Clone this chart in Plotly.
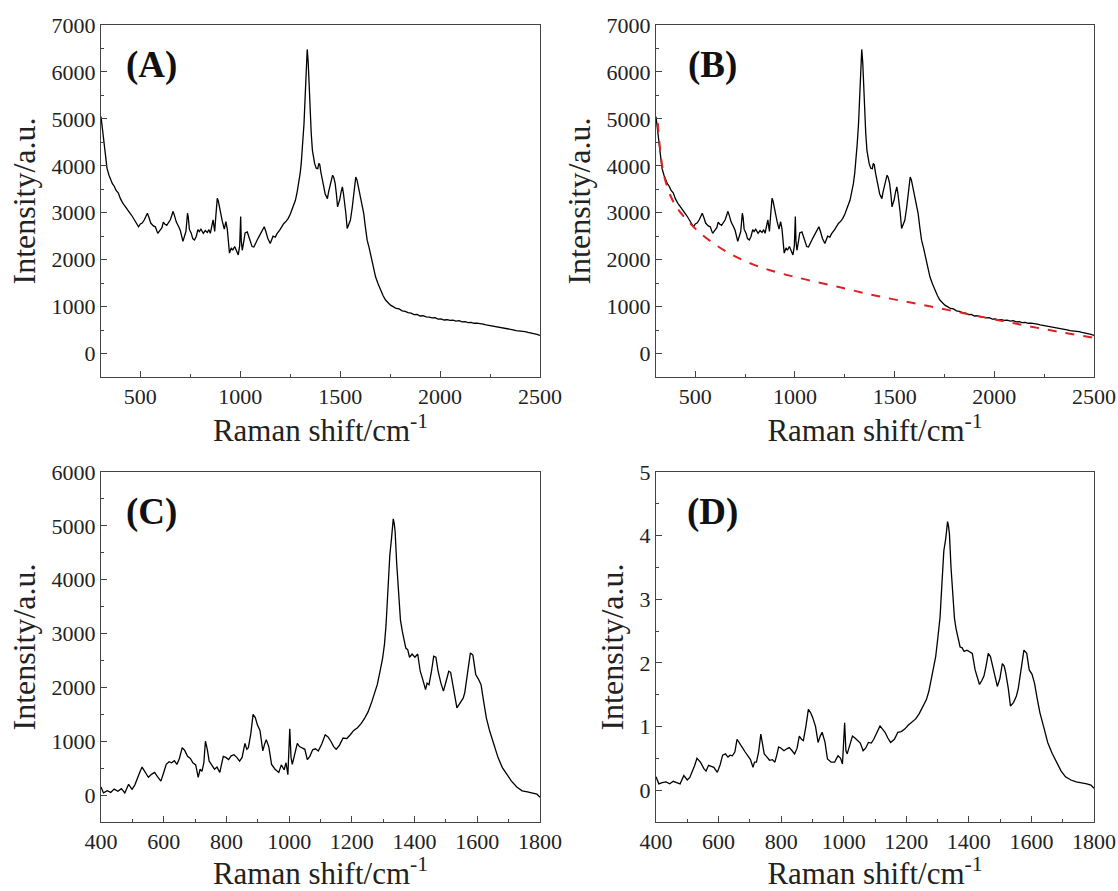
import plotly.graph_objects as go
from plotly.subplots import make_subplots

# ---------------- data ----------------
# Raw Raman spectrum (panels A and B)
raw_x = [303, 310, 318, 325, 333, 343, 352, 360, 370, 378, 390, 400, 413, 425, 436, 448, 460, 470, 480, 491,
         500, 509, 520, 528, 535, 543, 552, 565, 575, 587, 597, 608, 615, 622, 632, 640, 650, 658, 663, 670,
         680, 692, 700, 713, 720, 728, 736, 740, 745, 755, 762, 771, 780, 788, 795, 803, 815, 825, 835, 843,
         850, 857, 864, 868, 872, 878, 885, 890, 896, 902, 910, 920, 928, 935, 940, 946, 955, 962, 972, 980,
         990, 997, 1002, 1005, 1010, 1018, 1024, 1035, 1042, 1050, 1059, 1068, 1078, 1086, 1093, 1105, 1115, 1120, 1128, 1138,
         1150, 1158, 1164, 1175, 1184, 1199, 1210, 1218, 1230, 1240, 1251, 1262, 1270, 1276, 1285, 1293, 1300, 1305, 1312, 1319,
         1325, 1330, 1335, 1340, 1344, 1349, 1355, 1361, 1366, 1372, 1380, 1388, 1393, 1398, 1404, 1409, 1418, 1425, 1430, 1436,
         1442, 1450, 1456, 1462, 1468, 1475, 1481, 1487, 1492, 1497, 1505, 1511, 1516, 1521, 1528, 1535, 1543, 1551, 1560, 1568,
         1573, 1578, 1584, 1593, 1600, 1605, 1612, 1618, 1626, 1635, 1645, 1655, 1665, 1677, 1690, 1702, 1715, 1727, 1740, 1752,
         1765, 1780, 1795, 1810, 1825, 1840, 1855, 1870, 1885, 1900, 1915, 1930, 1945, 1960, 1975, 1990, 2005, 2020, 2035, 2050,
         2065, 2080, 2095, 2110, 2125, 2140, 2155, 2170, 2185, 2200, 2215, 2230, 2245, 2260, 2275, 2290, 2305, 2320, 2335, 2350,
         2365, 2380, 2395, 2410, 2425, 2440, 2455, 2470, 2485, 2500]
raw_y = [5050, 4800, 4400, 4150, 3950, 3800, 3700, 3620, 3560, 3480, 3420, 3300, 3200, 3120, 3060, 2990, 2920, 2850, 2800, 2700,
         2760, 2780, 2850, 2920, 2990, 2900, 2780, 2720, 2700, 2560, 2620, 2680, 2800, 2760, 2730, 2780, 2850, 2950, 3030, 2950,
         2800, 2700, 2620, 2390, 2480, 2600, 2990, 2900, 2650, 2560, 2450, 2420, 2500, 2640, 2600, 2650, 2560, 2620, 2580, 2640,
         2560, 2700, 2850, 2720, 2600, 2950, 3310, 3250, 3100, 2990, 2820, 2650, 2810, 2650, 2400, 2140, 2250, 2200, 2280, 2180,
         2100, 2300, 2920, 2400, 2200, 2400, 2570, 2590, 2500, 2400, 2280, 2270, 2380, 2430, 2485, 2580, 2650, 2700, 2600, 2450,
         2345, 2420, 2500, 2480, 2555, 2640, 2720, 2770, 2820, 2880, 2980, 3100, 3200, 3265, 3450, 3620, 3850, 4045, 4450, 4900,
         5500, 6100, 6480, 6200, 5700, 5300, 4700, 4330, 4150, 4050, 3950, 3940, 4050, 4020, 3850, 3760, 3550, 3400, 3335, 3300,
         3445, 3600, 3700, 3800, 3750, 3620, 3400, 3125, 3200, 3265, 3450, 3550, 3420, 3265, 3000, 2665, 2780, 2840, 3100, 3370,
         3600, 3760, 3700, 3515, 3300, 3195, 3100, 2980, 2700, 2415, 2250, 2060, 1850, 1635, 1480, 1350, 1230, 1140, 1080, 1030,
         1000, 960, 950, 910, 900, 870, 860, 830, 835, 800, 805, 780, 775, 760, 765, 735, 740, 715, 720, 705,
         710, 690, 700, 675, 680, 660, 665, 645, 650, 630, 625, 610, 600, 590, 580, 560, 555, 535, 530, 515,
         505, 490, 485, 470, 465, 450, 440, 425, 410, 385]

# Fitted background (red dashed line in panel B)
base_x = [312, 325, 343, 379, 414, 468, 521, 611, 700, 789, 879, 968, 1057, 1236, 1414, 1593, 1771, 1950, 2129, 2307, 2500]
base_y = [4908, 4300, 3800, 3330, 3070, 2800, 2580, 2290, 2070, 1900, 1770, 1665, 1575, 1400, 1225, 1075, 925, 770, 620, 475, 333]

# Background-subtracted spectrum (panel C)
sub_x = [400, 408, 420, 431, 442, 454, 465, 476, 488, 499, 508, 516, 524, 531, 539, 551, 562, 571, 579, 591,
         600, 608, 617, 625, 634, 642, 650, 659, 667, 676, 685, 693, 702, 710, 716, 722, 728, 733, 739, 745,
         753, 762, 770, 779, 784, 790, 798, 807, 815, 824, 833, 842, 850, 859, 865, 870, 878, 885, 892, 899,
         907, 916, 922, 927, 935, 944, 955, 967, 975, 984, 990, 996, 1002, 1006, 1010, 1018, 1026, 1033, 1041, 1050,
         1058, 1066, 1075, 1084, 1093, 1104, 1115, 1124, 1133, 1142, 1150, 1160, 1172, 1184, 1195, 1206, 1218, 1230, 1241, 1252,
         1264, 1272, 1281, 1290, 1298, 1304, 1309, 1315, 1321, 1327, 1332, 1335, 1338, 1343, 1349, 1355, 1361, 1366, 1372, 1378,
         1384, 1392, 1401, 1410, 1418, 1426, 1435, 1440, 1446, 1454, 1461, 1468, 1475, 1484, 1492, 1500, 1509, 1515, 1521, 1528,
         1535, 1545, 1555, 1560, 1566, 1572, 1578, 1586, 1595, 1604, 1612, 1620, 1629, 1640, 1652, 1666, 1680, 1695, 1709, 1726,
         1743, 1760, 1777, 1790, 1800]
sub_y = [150, 40, 80, 50, 110, 70, 120, 40, 200, 105, 190, 320, 430, 520, 450, 330, 390, 420, 350, 260,
         420, 570, 620, 600, 640, 570, 680, 880, 830, 720, 680, 600, 560, 330, 480, 440, 600, 1000, 850, 630,
         560, 480, 520, 420, 560, 720, 700, 660, 730, 750, 700, 630, 700, 960, 850, 880, 1150, 1500, 1440, 1300,
         1200, 820, 950, 1030, 900, 570, 480, 420, 560, 470, 600, 380, 1230, 700, 570, 780, 960, 900, 880, 850,
         660, 720, 840, 860, 820, 950, 1120, 1080, 1000, 900, 850, 920, 1060, 1050, 1120, 1200, 1250, 1330, 1430, 1550,
         1740, 1880, 2050, 2300, 2540, 2800, 3160, 3800, 4450, 4800, 5130, 5050, 4890, 4300, 3720, 3250, 3040, 2860, 2730, 2700,
         2560, 2620, 2560, 2620, 2300, 2150, 1960, 2080, 2050, 2300, 2580, 2560, 2300, 2080, 1930, 2100, 2300, 2280, 2050, 1850,
         1620, 1700, 1800, 1900, 2170, 2450, 2640, 2600, 2240, 2150, 2050, 1750, 1430, 1180, 940, 700, 510, 370, 260, 150,
         80, 60, 30, 20, -40]

# Normalised spectrum (panel D)
norm_x = [400, 409, 420, 432, 444, 455, 466, 477, 489, 500, 508, 515, 523, 531, 542, 553, 560, 568, 585, 596,
          605, 613, 622, 630, 637, 644, 652, 659, 668, 676, 685, 693, 702, 710, 715, 721, 728, 735, 741, 746,
          755, 763, 772, 780, 786, 792, 800, 809, 818, 826, 835, 843, 851, 858, 865, 871, 879, 887, 894, 901,
          910, 918, 925, 931, 940, 948, 960, 971, 977, 982, 990, 996, 1003, 1007, 1011, 1020, 1028, 1036, 1045, 1053,
          1062, 1070, 1079, 1088, 1096, 1106, 1116, 1124, 1132, 1141, 1150, 1162, 1173, 1184, 1195, 1206, 1218, 1230, 1241, 1252,
          1264, 1272, 1280, 1287, 1294, 1301, 1308, 1314, 1320, 1326, 1332, 1335, 1338, 1343, 1349, 1354, 1359, 1366, 1372, 1378,
          1385, 1394, 1403, 1411, 1420, 1427, 1434, 1441, 1448, 1455, 1462, 1469, 1476, 1484, 1491, 1499, 1507, 1513, 1518, 1526,
          1533, 1543, 1552, 1558, 1564, 1570, 1576, 1585, 1593, 1602, 1610, 1618, 1627, 1640, 1652, 1666, 1680, 1695, 1709, 1726,
          1743, 1760, 1777, 1790, 1800]
norm_y = [0.21, 0.10, 0.12, 0.13, 0.10, 0.14, 0.12, 0.10, 0.23, 0.16, 0.20, 0.28, 0.38, 0.50, 0.44, 0.34, 0.30, 0.39, 0.36, 0.28,
          0.40, 0.55, 0.57, 0.52, 0.55, 0.54, 0.60, 0.80, 0.74, 0.67, 0.60, 0.54, 0.48, 0.36, 0.44, 0.44, 0.60, 0.88, 0.72, 0.57,
          0.52, 0.47, 0.48, 0.44, 0.55, 0.68, 0.66, 0.62, 0.65, 0.67, 0.62, 0.57, 0.66, 0.85, 0.80, 0.78, 1.00, 1.27, 1.22, 1.14,
          1.00, 0.75, 0.85, 0.91, 0.76, 0.49, 0.44, 0.44, 0.50, 0.54, 0.50, 0.41, 1.06, 0.62, 0.57, 0.70, 0.85, 0.82, 0.78, 0.74,
          0.62, 0.66, 0.75, 0.74, 0.80, 0.90, 1.01, 0.96, 0.91, 0.82, 0.75, 0.80, 0.91, 0.92, 0.96, 1.02, 1.07, 1.12, 1.20, 1.30,
          1.42, 1.55, 1.74, 1.92, 2.10, 2.40, 2.72, 3.25, 3.76, 3.95, 4.22, 4.15, 4.02, 3.50, 2.98, 2.70, 2.54, 2.36, 2.25, 2.24,
          2.18, 2.20, 2.18, 2.15, 1.89, 1.78, 1.66, 1.72, 1.79, 1.95, 2.15, 2.10, 1.94, 1.78, 1.63, 1.75, 1.99, 1.95, 1.84, 1.60,
          1.32, 1.38, 1.48, 1.60, 1.79, 2.00, 2.20, 2.15, 1.89, 1.82, 1.68, 1.45, 1.22, 0.98, 0.75, 0.58, 0.44, 0.30, 0.21, 0.16,
          0.13, 0.12, 0.10, 0.08, 0.03]

panel_labels = ["(A)", "(B)", "(C)", "(D)"]
x_title = "Raman shift/cm<sup>-1</sup>"
y_title = "Intensity/a.u."

# ---------------- figure ----------------
W, H = 1118, 891
SERIF = "Liberation Serif, Times New Roman, serif"

fig = make_subplots(rows=2, cols=2)

def px_x(a, b):
    return [a / W, b / W]

def px_y(top, bottom):
    return [1 - bottom / H, 1 - top / H]

doms = {
    1: (px_x(101, 540), px_y(25, 377)),
    2: (px_x(656, 1094), px_y(25, 377)),
    3: (px_x(101, 540), px_y(472, 822)),
    4: (px_x(656, 1094), px_y(472, 822)),
}

line_style = dict(color="black", width=1.3)
fig.add_trace(go.Scatter(x=raw_x, y=raw_y, mode="lines", line=line_style, showlegend=False), row=1, col=1)
fig.add_trace(go.Scatter(x=raw_x, y=raw_y, mode="lines", line=line_style, showlegend=False), row=1, col=2)
fig.add_trace(go.Scatter(x=base_x, y=base_y, mode="lines", line=dict(color="#e02020", width=2, dash="dash"),
                         line_shape="spline", showlegend=False), row=1, col=2)
fig.add_trace(go.Scatter(x=sub_x, y=sub_y, mode="lines", line=line_style, showlegend=False), row=2, col=1)
fig.add_trace(go.Scatter(x=norm_x, y=norm_y, mode="lines", line=line_style, showlegend=False), row=2, col=2)

axis_common = dict(
    showline=True, mirror=True, linecolor="#444", linewidth=1,
    ticks="inside", ticklen=6, tickcolor="#444", tickwidth=1,
    showgrid=False, zeroline=False, automargin=False,
    tickfont=dict(family=SERIF, size=22, color="#222"),
)

for i in range(1, 5):
    xd, yd = doms[i]
    xkey = "xaxis" if i == 1 else f"xaxis{i}"
    ykey = "yaxis" if i == 1 else f"yaxis{i}"
    if i <= 2:
        xr, xdt, xmin = [303, 2500], 500, 250
        yr, ydt, ymin = [-500, 7000], 1000, 500
    elif i == 3:
        xr, xdt, xmin = [400, 1800], 200, 100
        yr, ydt, ymin = [-500, 6000], 1000, 500
    else:
        xr, xdt, xmin = [400, 1800], 200, 100
        yr, ydt, ymin = [-0.5, 5], 1, 0.5
    fig.update_layout(**{
        xkey: dict(axis_common, domain=xd, range=xr, tick0=0, dtick=xdt,
                   minor=dict(ticks="inside", ticklen=3, tickcolor="#444", dtick=xmin, tick0=0),
                   title=dict(text=x_title, font=dict(family=SERIF, size=31, color="#222"), standoff=8)),
        ykey: dict(axis_common, domain=yd, range=yr, tick0=0, dtick=ydt,
                   minor=dict(ticks="inside", ticklen=3, tickcolor="#444", dtick=ymin, tick0=0),
                   title=dict(text=y_title, font=dict(family=SERIF, size=32, color="#222"), standoff=6)),
    })
    xref = "x domain" if i == 1 else f"x{i} domain"
    yref = "y domain" if i == 1 else f"y{i} domain"
    fig.add_annotation(x=0.114 if i % 2 == 1 else 0.13, y=0.885, xref=xref, yref=yref,
                       xanchor="center", yanchor="middle",
                       text=f"<b>{panel_labels[i-1]}</b>", showarrow=False,
                       font=dict(family=SERIF, size=37, color="#111"))

fig.update_layout(
    width=W, height=H,
    margin=dict(l=0, r=0, t=0, b=0),
    plot_bgcolor="white", paper_bgcolor="white",
    showlegend=False,
)

fig.write_html("out.html")
